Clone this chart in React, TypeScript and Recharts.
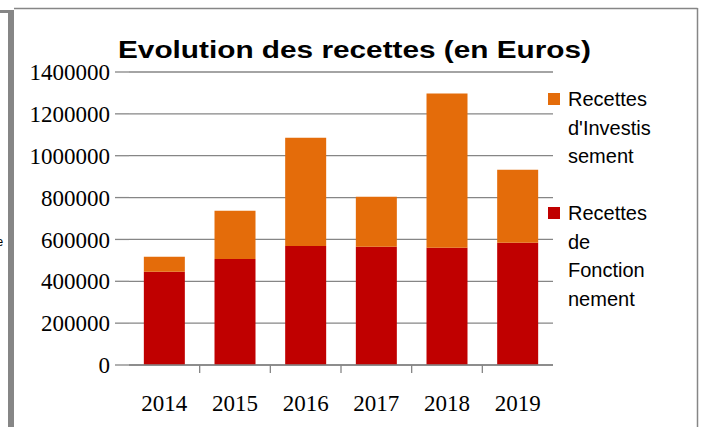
import React from 'react';
import { BarChart, Bar, XAxis, YAxis, CartesianGrid, Legend } from 'recharts';

const years = ['2014', '2015', '2016', '2017', '2018', '2019'];
const fonctionnement = [445000, 507000, 569000, 565000, 560000, 584000];
const investissement = [72000, 230000, 517000, 239000, 737000, 349000];
const yTicks = [0, 200000, 400000, 600000, 800000, 1000000, 1200000, 1400000];
const title = 'Evolution des recettes (en Euros)';
const nameFonct = 'Recettes de Fonctionnement';
const nameInvest = "Recettes d'Investissement";
const legendLinesInvest = ['Recettes', "d'Investis", 'sement'];
const legendLinesFonct = ['Recettes', 'de', 'Fonction', 'nement'];
const legendOrder = ['invest', 'fonct'];

const RED = '#C00000';
const ORANGE = '#E46C0A';
const GRID = '#868686';
const LABEL_GAP = 30;
const SERIF = "'Liberation Serif', 'Times New Roman', serif";

const data = years.map((year, i) => ({
  year,
  fonct: fonctionnement[i],
  invest: investissement[i],
}));

const legendLines: Record<string, string[]> = {
  invest: legendLinesInvest,
  fonct: legendLinesFonct,
};

function YearTick(props: any) {
  const { x, y, payload } = props;
  const half = payload && typeof payload.offset === 'number' ? payload.offset : 0;
  const axisY = y - LABEL_GAP;
  const idx = payload && typeof payload.index === 'number' ? payload.index : props.index;
  return (
    <g>
      {idx < years.length - 1 && half > 0 && (
        <line x1={x + half} x2={x + half} y1={axisY} y2={axisY + 8} stroke={GRID} strokeWidth={1.3} />
      )}
      <text x={x} y={y} dy="0.71em" textAnchor="middle" fill="#000" fontFamily={SERIF} fontSize={23} style={{ fontFamily: SERIF, fontSize: 23 }}>
        {payload.value}
      </text>
    </g>
  );
}

function renderValueTick(props: any) {
  const { x, y, payload } = props;
  return (
    <g>
      <text
        x={x}
        y={y}
        dy="0.355em"
        textAnchor="end"
        fill="#000"
        fontFamily={SERIF}
        fontSize={23}
        style={{ fontFamily: SERIF, fontSize: 23 }}
      >
        {String(payload.value)}
      </text>
    </g>
  );
}

function renderLegend(props: any) {
  const items = (props.payload || []).slice();
  items.sort((a: any, b: any) => legendOrder.indexOf(a.dataKey) - legendOrder.indexOf(b.dataKey));
  return (
    <div style={{ fontFamily: "'Liberation Sans', sans-serif", fontSize: 20, color: '#000' }}>
      {items.map((entry: any, i: number) => (
        <div
          key={entry.dataKey}
          style={{ position: 'relative', lineHeight: '28.5px', marginTop: i === 0 ? 0 : 28.5, paddingLeft: 20 }}
        >
          <span
            style={{
              position: 'absolute',
              left: 0,
              top: 7.5,
              width: 12,
              height: 12,
              background: entry.color,
            }}
          />
          {(legendLines[entry.dataKey] || [entry.value]).map((ln: string) => (
            <div key={ln} style={{ whiteSpace: 'nowrap' }}>{ln}</div>
          ))}
        </div>
      ))}
    </div>
  );
}

export default function App() {
  return (
    <div style={{ position: 'absolute', left: 0, top: 0, width: 704, height: 427, background: '#fff', overflow: 'hidden' }}>
      <BarChart
        width={704}
        height={427}
        data={data}
        margin={{ top: 72, right: 151, bottom: 0, left: 0 }}
        barCategoryGap="21%"
      >
        <CartesianGrid horizontal vertical={false} stroke={GRID} strokeWidth={1.3} />
        <XAxis
          dataKey="year"
          height={62}
          axisLine={{ stroke: GRID, strokeWidth: 1.3 }}
          tickLine={false}
          tickSize={0}
          tickMargin={LABEL_GAP}
          tick={<YearTick />}
          interval={0}
        />
        <YAxis
          width={129}
          domain={[0, 1400000]}
          ticks={yTicks}
          interval={0}
          axisLine={false}
          tickLine={{ stroke: GRID, strokeWidth: 1.3 }}
          tickSize={14}
          tickMargin={5}
          tick={renderValueTick}
        />
        <Legend
          layout="vertical"
          align="center"
          verticalAlign="middle"
          wrapperStyle={{ left: 548, top: 85, width: 150 }}
          content={renderLegend}
        />
        <Bar dataKey="fonct" name={nameFonct} stackId="a" fill={RED} isAnimationActive={false} />
        <Bar dataKey="invest" name={nameInvest} stackId="a" fill={ORANGE} isAnimationActive={false} />
      </BarChart>
      <svg
        width={704}
        height={427}
        style={{ position: 'absolute', left: 0, top: 0, pointerEvents: 'none' }}
      >
        <rect x={0} y={10} width={8} height={3} fill={GRID} />
        <rect x={8} y={10} width={6} height={417} fill={GRID} />
        <line x1={14} x2={697.5} y1={8.5} y2={8.5} stroke={GRID} strokeWidth={1.5} />
        <line x1={697.5} x2={697.5} y1={8} y2={427} stroke={GRID} strokeWidth={1.5} />
        <text x={-3.5} y={246} fontFamily="'Liberation Sans', sans-serif" fontSize={12} fill="#000">e</text>
        <text
          x={118}
          y={58}
          fontFamily="'Liberation Sans', sans-serif"
          fontWeight="bold"
          fontSize={23}
          textLength={473}
          lengthAdjust="spacingAndGlyphs"
          fill="#000"
        >
          {title}
        </text>
      </svg>
    </div>
  );
}
